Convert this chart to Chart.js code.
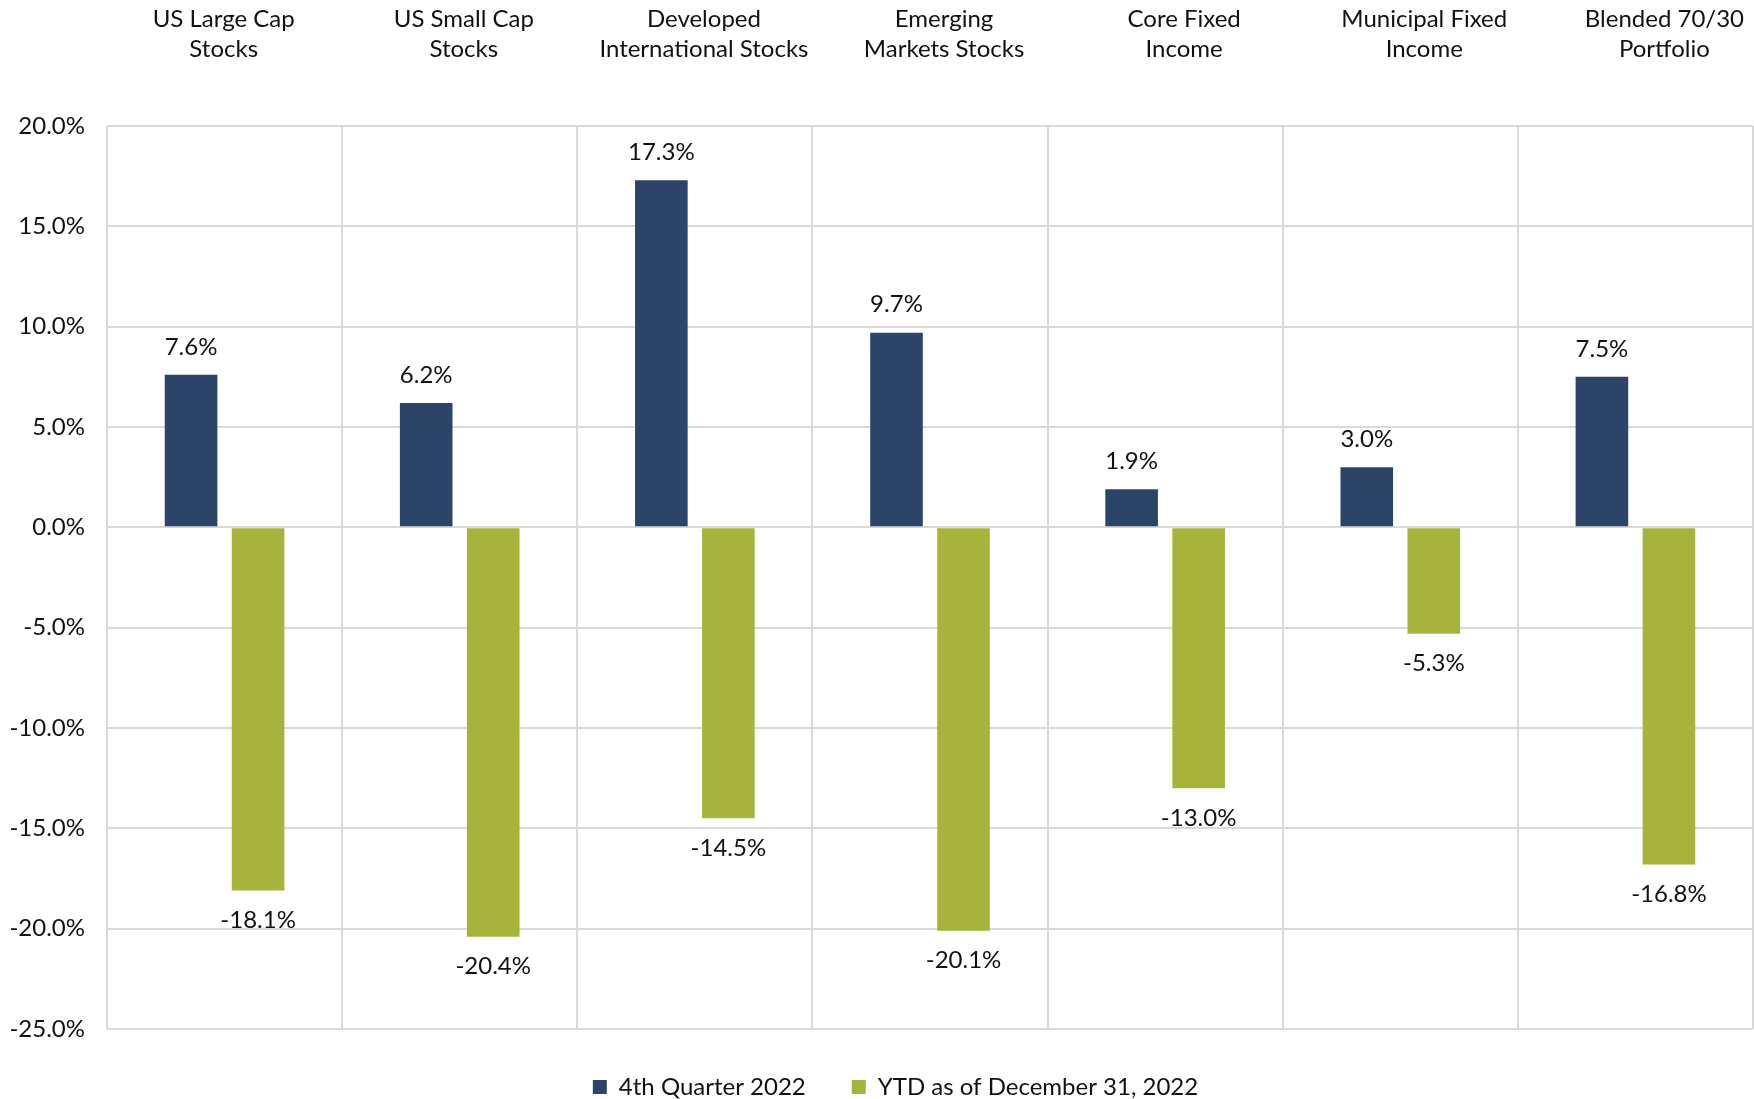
<!DOCTYPE html>
<html>
<head>
<meta charset="utf-8">
<script src="https://cdn.jsdelivr.net/npm/chart.js@4.4.1/dist/chart.umd.min.js"></script>
<style>
  html, body { margin: 0; padding: 0; background: #ffffff; }
  #wrap { width: 1754px; height: 1099px; position: relative; }
</style>
</head>
<body>
<div id="wrap"><canvas id="chart" width="1754" height="1099"></canvas></div>
<script>
// Asset classes shown across the top (two lines each)
const categories = [
  ['US Large Cap', 'Stocks'],
  ['US Small Cap', 'Stocks'],
  ['Developed', 'International Stocks'],
  ['Emerging', 'Markets Stocks'],
  ['Core Fixed', 'Income'],
  ['Municipal Fixed', 'Income'],
  ['Blended 70/30', 'Portfolio']
];

// Returns, in percent
const q4Returns  = [7.6, 6.2, 17.3, 9.7, 1.9, 3.0, 7.5];
const ytdReturns = [-18.1, -20.4, -14.5, -20.1, -13.0, -5.3, -16.8];

const seriesNames = ['4th Quarter 2022', 'YTD as of December 31, 2022'];

// Value axis ticks
const yTicks = [20, 15, 10, 5, 0, -5, -10, -15, -20, -25];

const FONT = 'Lato, "Open Sans", "DejaVu Sans", sans-serif';
const FONT_SIZE = 24;
const TEXT = '#111111';
const GRID = '#d9d9d9';

// Writes each bar's value above (positive) or below (negative) the bar
const valueLabels = {
  id: 'valueLabels',
  afterDatasetsDraw(chart) {
    const ctx = chart.ctx;
    ctx.save();
    ctx.font = FONT_SIZE + 'px ' + FONT;
    ctx.fillStyle = TEXT;
    ctx.textAlign = 'center';
    ctx.textBaseline = 'middle';
    chart.data.datasets.forEach((ds, i) => {
      const meta = chart.getDatasetMeta(i);
      meta.data.forEach((bar, j) => {
        const v = ds.data[j];
        const y = v >= 0 ? bar.y - 28 : bar.y + 30;
        ctx.fillText(v.toFixed(1) + '%', bar.x, y);
      });
    });
    ctx.restore();
  }
};

// Nudges the legend a little to the right of the canvas centre
const legendShift = {
  id: 'legendShift',
  afterLayout(chart) {
    const lg = chart.legend;
    if (lg) { lg.left += 19; lg.right += 19; }
  }
};

new Chart(document.getElementById('chart'), {
  type: 'bar',
  data: {
    labels: categories,
    datasets: [
      {
        label: seriesNames[0],
        data: q4Returns,
        backgroundColor: '#2d4469',
        borderWidth: 0,
        categoryPercentage: 0.57,
        barPercentage: 0.785
      },
      {
        label: seriesNames[1],
        data: ytdReturns,
        backgroundColor: '#a6b43b',
        borderWidth: 0,
        categoryPercentage: 0.57,
        barPercentage: 0.785
      }
    ]
  },
  options: {
    responsive: false,
    animation: false,
    layout: { padding: { left: 0, right: 1, top: 0, bottom: -10 } },
    plugins: {
      legend: {
        position: 'bottom',
        labels: {
          font: { family: FONT, size: FONT_SIZE },
          color: TEXT,
          boxWidth: 14,
          boxHeight: 14,
          padding: 46
        }
      },
      tooltip: { enabled: false }
    },
    scales: {
      // category axis: positions the bars and draws the vertical dividers
      x: {
        position: 'top',
        grid: { offset: true, color: GRID, lineWidth: 2, drawTicks: false },
        border: { display: false },
        ticks: { display: false },
        afterFit(scale) {
          scale.height = 0;
          scale.paddingLeft = 0;
          scale.paddingRight = 0;
        }
      },
      // header axis: carries the asset-class names
      names: {
        type: 'linear',
        position: 'top',
        offset: false,
        min: -0.486,
        max: 6.369,
        grid: { display: false, offset: false, drawTicks: false },
        border: { display: false },
        ticks: {
          font: { family: FONT, size: FONT_SIZE, lineHeight: 1.25 },
          color: TEXT,
          padding: 62,
          maxRotation: 0,
          autoSkip: false,
          callback: (v, i) => categories[i]
        },
        afterBuildTicks(scale) { scale.ticks = categories.map((_, i) => ({ value: i })); },
        afterFit(scale) {
          scale.height = 126;
          scale.paddingLeft = 0;
          scale.paddingRight = 0;
        }
      },
      y: {
        min: yTicks[yTicks.length - 1],
        max: yTicks[0],
        grid: { color: GRID, lineWidth: 2, drawTicks: false },
        border: { display: false },
        ticks: {
          font: { family: FONT, size: FONT_SIZE },
          color: TEXT,
          padding: 22,
          callback: v => Number(v).toFixed(1) + '%'
        },
        afterBuildTicks(scale) { scale.ticks = yTicks.map(v => ({ value: v })); },
        afterFit(scale) { scale.width = 107; }
      }
    }
  },
  plugins: [valueLabels, legendShift]
});
</script>
</body>
</html>
